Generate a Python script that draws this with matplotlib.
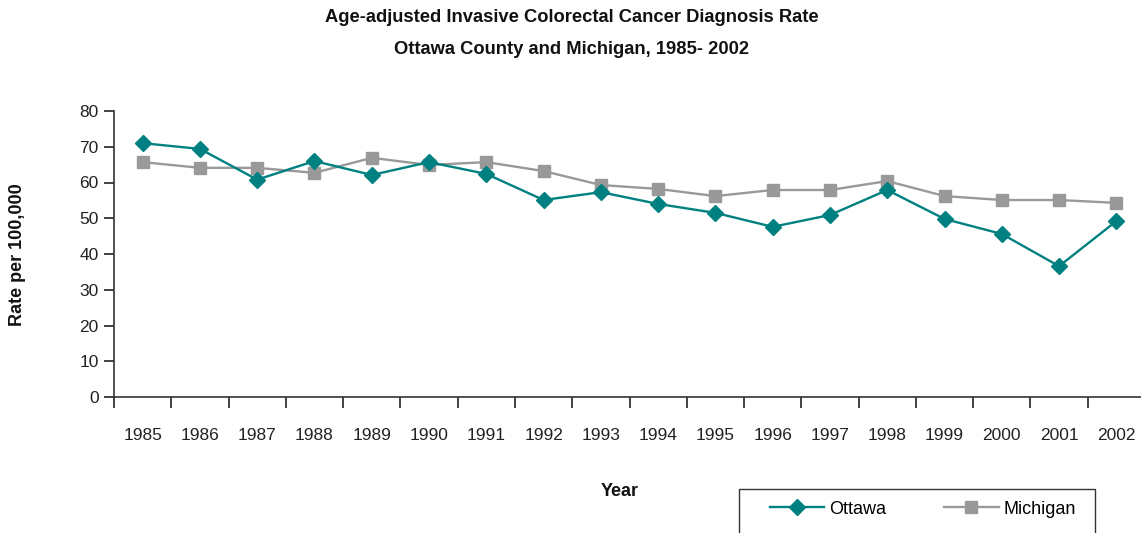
import matplotlib.pyplot as plt
import matplotlib.font_manager as fm
from matplotlib.patches import Rectangle

years = [str(y) for y in range(1985, 2003)]
ottawa = [71.0, 69.4, 60.8, 66.0, 62.1, 65.7, 62.4, 55.1, 57.3, 54.0,
          51.5, 47.6, 50.9, 57.9, 49.8, 45.6, 36.6, 49.2]
michigan = [65.7, 64.1, 64.1, 62.7, 66.9, 64.9, 65.7, 63.2, 59.3, 58.2,
            56.2, 57.9, 57.9, 60.4, 56.2, 55.1, 55.1, 54.3]

names = {f.name for f in fm.fontManager.ttflist}
fam = [f for f in ['Liberation Sans Narrow', 'Liberation Sans', 'DejaVu Sans'] if f in names]
plt.rcParams['font.family'] = fam

fig = plt.figure(figsize=(11.41, 5.33), dpi=100)
ax = fig.add_axes([114 / 1141, 136 / 533, 1031 / 1141, 286 / 533])

x = list(range(len(years)))
ax.plot(x, michigan, color='#999999', lw=1.7, marker='s', markersize=8, label='Michigan')
ax.plot(x, ottawa, color='#008080', lw=1.7, marker='D', markersize=8, label='Ottawa')

ax.set_xlim(-0.5, len(years) - 0.5)
ax.set_ylim(0, 80)
ax.set_yticks(range(0, 81, 10))
ax.set_xticks(x)
ax.set_xticklabels(years)
ax.set_xticks([i - 0.5 for i in range(len(years) + 1)], minor=True)
ax.tick_params(axis='x', which='major', length=0, pad=22, labelsize=12.5, colors='#222222')
ax.tick_params(axis='x', which='minor', length=8, width=1.2, direction='out', color='#222222')
ax.tick_params(axis='y', length=7, width=1.2, labelsize=12.5, colors='#222222', pad=4)

for s in ['top', 'right']:
    ax.spines[s].set_visible(False)
for s in ['left', 'bottom']:
    ax.spines[s].set_color('#333333')
    ax.spines[s].set_linewidth(1.2)

fig.text(572 / 1141, 1 - 17 / 533, 'Age-adjusted Invasive Colorectal Cancer Diagnosis Rate',
         ha='center', va='center', fontsize=13.2, fontweight='bold', color='#111111')
fig.text(572 / 1141, 1 - 50 / 533, 'Ottawa County and Michigan, 1985- 2002',
         ha='center', va='center', fontsize=13.2, fontweight='bold', color='#111111')
fig.text(18 / 1141, 1 - 255 / 533, 'Rate per 100,000', rotation=90,
         ha='center', va='center', fontsize=13, fontweight='bold', color='#111111')
fig.text(620 / 1141, 1 - 492 / 533, 'Year', ha='center', va='center',
         fontsize=13, fontweight='bold', color='#111111')

# legend box runs off the bottom of the figure, as in the reference
fig.patches.append(Rectangle((739 / 1141, -0.05), 356 / 1141, 0.05 + 44 / 533,
                             transform=fig.transFigure, fill=False,
                             edgecolor='#333333', linewidth=1.0))
h, l = ax.get_legend_handles_labels()
leg = fig.legend(h[::-1], l[::-1], loc='center left', ncol=2,
                 bbox_to_anchor=(770 / 1141, 1 - 509 / 533), frameon=False,
                 fontsize=13, handlelength=3.0, handletextpad=0.3,
                 columnspacing=3.2, borderpad=0, borderaxespad=0)

fig.savefig('out.png', dpi=100)
